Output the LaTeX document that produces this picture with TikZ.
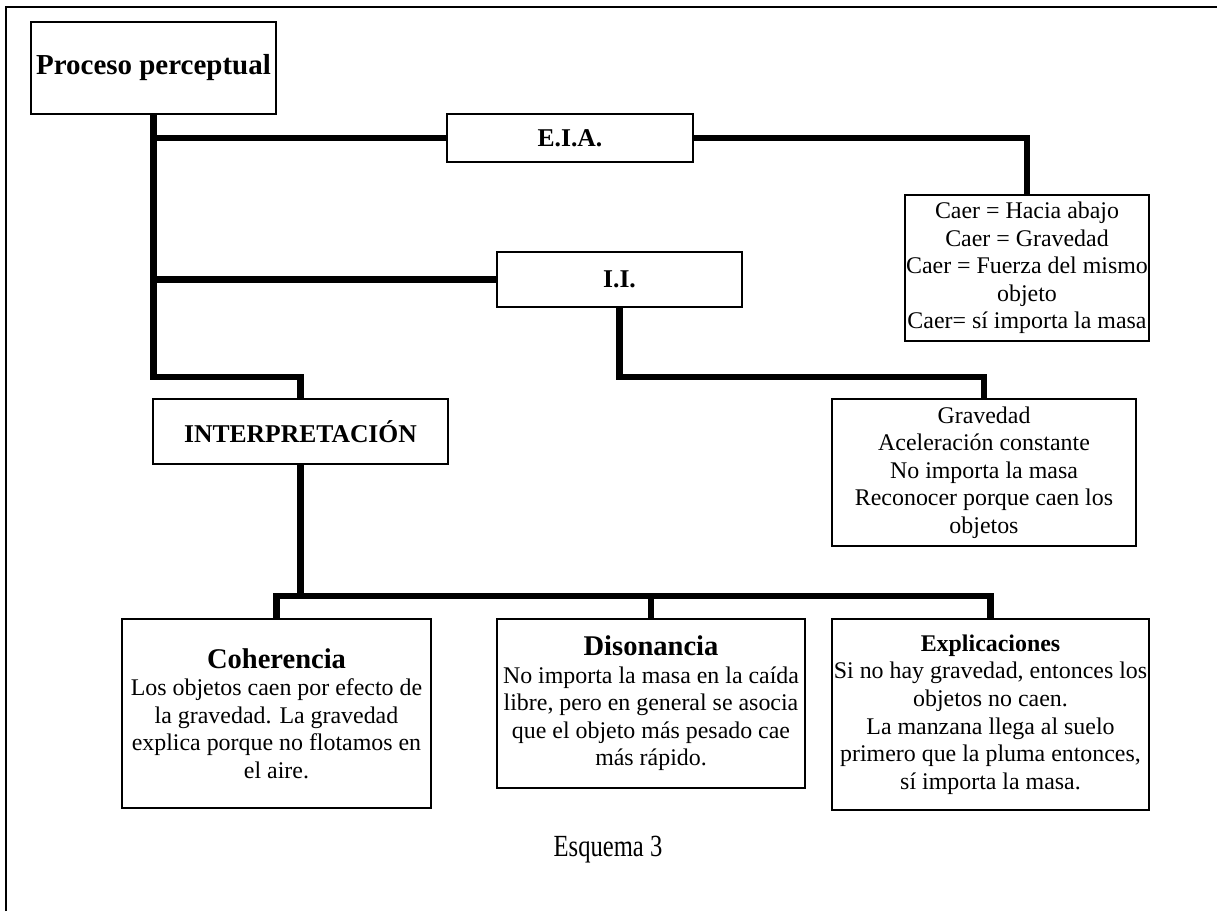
\documentclass[tikz,border=0pt]{standalone}
\usepackage{fontspec}
\setmainfont{Liberation Serif}

\begin{document}
\begin{tikzpicture} [scale = 1,
  caja/.style = {draw, black, line width=1.1pt, inner sep=0pt, outer sep=0pt, align=center, font=\fontsize{17}{19.6}\selectfont},
  enlace/.style = {black, line width=4.5pt},
  titulo/.style = {font=\fontsize{18.2}{21}\selectfont\bfseries}]
\useasboundingbox (0, 0) rectangle (30.425, 22.775);
\draw[black, line width=1.4pt] (0.15, 0) -- (0.15, 22.6) -- (30.425, 22.6);
\node[caja, minimum width=6.125cm, minimum height=2.3cm, font=\fontsize{20.6}{24}\selectfont\bfseries] (proceso) at (3.8375, 21.075){Proceso perceptual};
\node[caja, titulo, minimum width=6.15cm, minimum height=1.2cm] (eia) at (14.25, 19.325){E.I.A.};
\node[caja, titulo, minimum width=6.125cm, minimum height=1.375cm] (ii) at (15.4875, 15.7875){I.I.};
\node[caja, titulo, minimum width=7.375cm, minimum height=1.625cm] (interp) at (7.5125, 11.9875){INTERPRETACIÓN};
\node[caja, minimum width=6.1cm, minimum height=3.65cm] (caer) at (25.675, 16.075){Caer = Hacia abajo\\Caer = Gravedad\\Caer = Fuerza del mismo\\objeto\\Caer= sí importa la masa};
\node[caja, minimum width=7.6cm, minimum height=3.675cm] (grav) at (24.6, 10.9625){Gravedad\\Aceleración constante\\No importa la masa\\Reconocer porque caen los\\objetos};
\node[caja, minimum width=7.725cm, minimum height=4.725cm] (coh) at (6.9125, 4.9375){{\fontsize{20.3}{23}\selectfont\bfseries Coherencia}\\Los objetos caen por efecto de\\la gravedad. La gravedad\\explica porque no flotamos en\\el aire.};
\node[caja, minimum width=7.7cm, minimum height=4.225cm] (dis) at (16.275, 5.1875){{\fontsize{20.3}{23}\selectfont\bfseries Disonancia}\\No importa la masa en la caída\\libre, pero en general se asocia\\que el objeto más pesado cae\\más rápido.};
\node[caja, minimum width=7.925cm, minimum height=4.775cm] (expl) at (24.7625, 4.9125){\textbf{Explicaciones}\\Si no hay gravedad, entonces los\\objetos no caen.\\La manzana llega al suelo\\primero que la pluma entonces,\\sí importa la masa.};
\node[black, font=\fontsize{17.5}{20}\selectfont] (esquema) at (15.2, 1.525){\scalebox{1}[1.25]{Esquema 3}};
\coordinate (codo) at (0, 13.35);
\coordinate (bus) at (0, 7.875);
\draw[enlace] (proceso.south) -- (proceso.south |- codo) -| (interp.north);
\draw[enlace] (proceso.south |- eia.west) -- (eia.west);
\draw[enlace] (proceso.south |- ii.west) -- (ii.west);
\draw[enlace] (eia.east) -| (caer.north);
\draw[enlace] (ii.south) -- (ii.south |- codo) -| (grav.north);
\draw[enlace] (interp.south) -- (interp.south |- bus);
\draw[enlace] (coh.north) -- (coh.north |- bus) -- (expl.north |- bus) -- (expl.north);
\draw[enlace] (dis.north) -- (dis.north |- bus);
\end{tikzpicture}
\end{document}
